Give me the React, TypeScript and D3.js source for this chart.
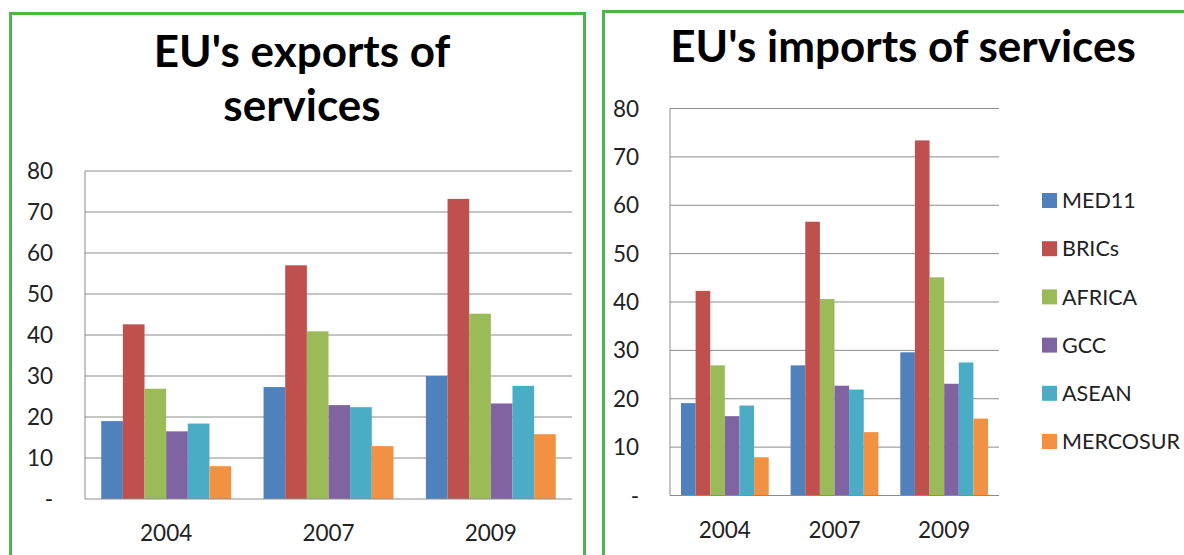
import * as d3 from 'd3'

const W = 1184
const H = 555

const YEARS = ['2004', '2007', '2009']
const SERIES = ['MED11', 'BRICs', 'AFRICA', 'GCC', 'ASEAN', 'MERCOSUR']
const SERIES_COLORS = ['#4F81BD', '#C0504D', '#9BBB59', '#8064A2', '#4BACC6', '#F39143']
const Y_TICKS = [0, 10, 20, 30, 40, 50, 60, 70, 80]

// values by year, in SERIES order
const EXPORTS_2004 = [19.0, 42.6, 26.9, 16.5, 18.4, 8.0]
const EXPORTS_2007 = [27.3, 57.0, 40.9, 22.9, 22.4, 12.9]
const EXPORTS_2009 = [30.0, 73.2, 45.2, 23.3, 27.6, 15.8]

const IMPORTS_2004 = [19.1, 42.3, 26.9, 16.4, 18.6, 7.9]
const IMPORTS_2007 = [26.9, 56.6, 40.6, 22.7, 21.9, 13.1]
const IMPORTS_2009 = [29.6, 73.4, 45.1, 23.1, 27.5, 15.9]

const FONT = 'Lato, "Open Sans", sans-serif'
const GREEN = '#4fb548'
const GRID = '#8c8c8c'

type Box = { left: number; right: number; top: number; bottom: number }

function BarPanel({
  values,
  box,
  labelGap,
  xLabelY,
}: {
  values: number[][]
  box: Box
  labelGap: number
  xLabelY: number
}) {
  const x0 = d3.scaleBand().domain(YEARS).range([box.left, box.right])
  // Excel-style gap width of 150%
  const x1 = d3
    .scaleBand()
    .domain(SERIES)
    .range([0, x0.bandwidth()])
    .paddingInner(0)
    .paddingOuter(0.75)
  const y = d3.scaleLinear().domain([0, 80]).range([box.bottom, box.top])

  return (
    <g>
      {/* gridlines */}
      {Y_TICKS.filter((t) => t > 0).map((t) => (
        <line
          key={t}
          x1={box.left}
          x2={box.right}
          y1={y(t)}
          y2={y(t)}
          stroke={GRID}
          strokeWidth={1}
        />
      ))}
      {/* bars */}
      {YEARS.map((yr, i) => (
        <g key={yr} transform={`translate(${x0(yr)},0)`}>
          {SERIES.map((s, j) => (
            <rect
              key={s}
              x={x1(s)}
              y={y(values[i][j])}
              width={x1.bandwidth()}
              height={y(0) - y(values[i][j])}
              fill={SERIES_COLORS[j]}
            />
          ))}
        </g>
      ))}
      {/* axes */}
      <line x1={box.left} x2={box.left} y1={box.top} y2={box.bottom} stroke={GRID} />
      <line x1={box.left} x2={box.right} y1={box.bottom} y2={box.bottom} stroke={GRID} />
      {Y_TICKS.map((t) => (
        <text
          key={t}
          x={box.left - labelGap}
          y={y(t)}
          dy="0.36em"
          textAnchor="end"
          fontSize={22.5}
          fontFamily={FONT}
          fill="#222"
        >
          {t === 0 ? '-' : t}
        </text>
      ))}
      {YEARS.map((yr) => (
        <text
          key={yr}
          x={(x0(yr) ?? 0) + x0.bandwidth() / 2}
          y={xLabelY}
          textAnchor="middle"
          fontSize={22.5}
          fontFamily={FONT}
          fill="#222"
        >
          {yr}
        </text>
      ))}
    </g>
  )
}

export default function App() {
  const exportsData = [EXPORTS_2004, EXPORTS_2007, EXPORTS_2009]
  const importsData = [IMPORTS_2004, IMPORTS_2007, IMPORTS_2009]
  const legendY = d3.scalePoint().domain(SERIES).range([200.5, 441.5])

  return (
    <svg
      width={W}
      height={H}
      viewBox={`0 0 ${W} ${H}`}
      style={{ position: 'absolute', left: 0, top: 0, background: '#fff' }}
    >
      <rect x={0} y={0} width={W} height={H} fill="#fff" />

      {/* left panel */}
      <rect x={10.5} y={13.5} width={574} height={560} fill="none" stroke={GREEN} strokeWidth={3} />
      <text x={302} y={67} textAnchor="middle" fontSize={44} fontWeight="bold" fontFamily={FONT}>
        EU's exports of
      </text>
      <text x={302} y={121} textAnchor="middle" fontSize={44} fontWeight="bold" fontFamily={FONT}>
        services
      </text>
      <BarPanel
        values={exportsData}
        box={{ left: 85, right: 572, top: 171, bottom: 499 }}
        labelGap={32}
        xLabelY={541}
      />

      {/* right panel */}
      <rect x={603.5} y={11.5} width={620} height={560} fill="none" stroke={GREEN} strokeWidth={3} />
      <text x={903} y={62} textAnchor="middle" fontSize={44} fontWeight="bold" fontFamily={FONT}>
        EU's imports of services
      </text>
      <BarPanel
        values={importsData}
        box={{ left: 670, right: 999, top: 108.5, bottom: 495.5 }}
        labelGap={31}
        xLabelY={538}
      />

      {/* legend */}
      {SERIES.map((s, j) => (
        <g key={s} transform={`translate(1042,${legendY(s)})`}>
          <rect x={0} y={-7.5} width={15} height={15} fill={SERIES_COLORS[j]} />
          <text x={20} y={0} dy="0.36em" fontSize={21.5} fontFamily={FONT} fill="#222">
            {s}
          </text>
        </g>
      ))}
    </svg>
  )
}
